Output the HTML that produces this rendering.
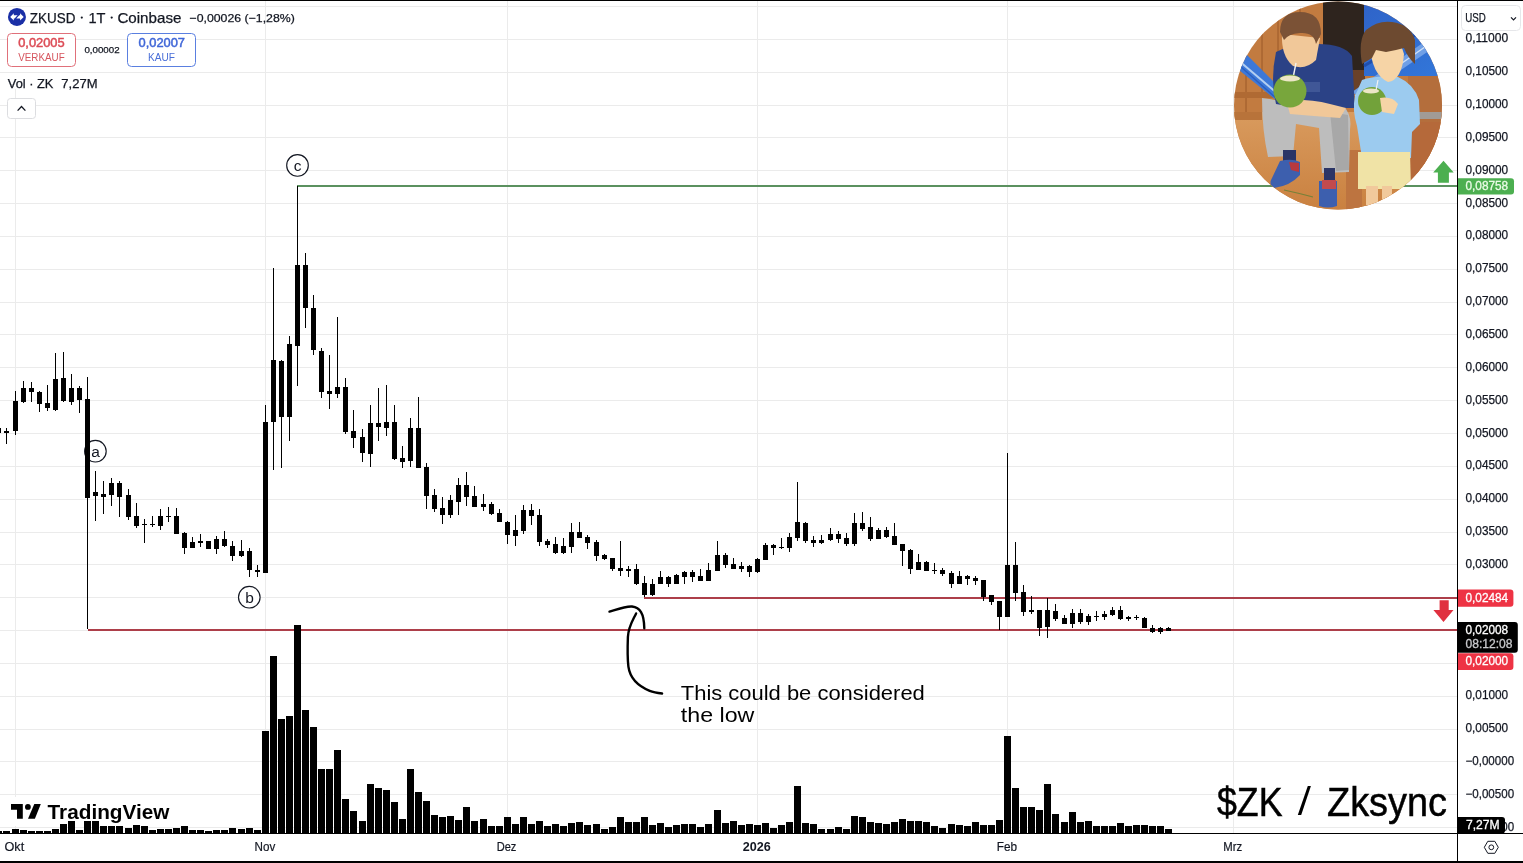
<!DOCTYPE html><html><head><meta charset="utf-8"><title>ZKUSD</title><style>
html,body{margin:0;padding:0;background:#fff;}
body{width:1523px;height:863px;position:relative;overflow:hidden;font-family:"Liberation Sans", sans-serif;}
svg{position:absolute;left:0;top:0;will-change:transform;}
text{font-family:"Liberation Sans", sans-serif;}
</style></head><body>
<svg width="1523" height="863" shape-rendering="crispEdges">
<rect x="0" y="6" width="1457" height="1" fill="#ebebeb"/>
<rect x="0" y="39" width="1457" height="1" fill="#ebebeb"/>
<rect x="0" y="72" width="1457" height="1" fill="#ebebeb"/>
<rect x="0" y="105" width="1457" height="1" fill="#ebebeb"/>
<rect x="0" y="137" width="1457" height="1" fill="#ebebeb"/>
<rect x="0" y="170" width="1457" height="1" fill="#ebebeb"/>
<rect x="0" y="203" width="1457" height="1" fill="#ebebeb"/>
<rect x="0" y="236" width="1457" height="1" fill="#ebebeb"/>
<rect x="0" y="269" width="1457" height="1" fill="#ebebeb"/>
<rect x="0" y="302" width="1457" height="1" fill="#ebebeb"/>
<rect x="0" y="334" width="1457" height="1" fill="#ebebeb"/>
<rect x="0" y="367" width="1457" height="1" fill="#ebebeb"/>
<rect x="0" y="400" width="1457" height="1" fill="#ebebeb"/>
<rect x="0" y="433" width="1457" height="1" fill="#ebebeb"/>
<rect x="0" y="466" width="1457" height="1" fill="#ebebeb"/>
<rect x="0" y="499" width="1457" height="1" fill="#ebebeb"/>
<rect x="0" y="532" width="1457" height="1" fill="#ebebeb"/>
<rect x="0" y="564" width="1457" height="1" fill="#ebebeb"/>
<rect x="0" y="597" width="1457" height="1" fill="#ebebeb"/>
<rect x="0" y="630" width="1457" height="1" fill="#ebebeb"/>
<rect x="0" y="663" width="1457" height="1" fill="#ebebeb"/>
<rect x="0" y="696" width="1457" height="1" fill="#ebebeb"/>
<rect x="0" y="729" width="1457" height="1" fill="#ebebeb"/>
<rect x="0" y="761" width="1457" height="1" fill="#ebebeb"/>
<rect x="0" y="794" width="1457" height="1" fill="#ebebeb"/>
<rect x="0" y="827" width="1457" height="1" fill="#ebebeb"/>
<rect x="15" y="89" width="1" height="744" fill="#ebebeb"/>
<rect x="265" y="0" width="1" height="833" fill="#ebebeb"/>
<rect x="507" y="0" width="1" height="833" fill="#ebebeb"/>
<rect x="757" y="0" width="1" height="833" fill="#ebebeb"/>
<rect x="1007" y="0" width="1" height="833" fill="#ebebeb"/>
<rect x="1233" y="0" width="1" height="833" fill="#ebebeb"/>
<circle cx="95.4" cy="451.2" r="10.8" fill="#fff" shape-rendering="auto" stroke="#131722" stroke-width="1.15"/>
<text x="95.6" y="456.8" font-size="15.5" text-anchor="middle" fill="#131722">a</text>
<circle cx="249.3" cy="597.2" r="10.8" fill="#fff" shape-rendering="auto" stroke="#131722" stroke-width="1.15"/>
<text x="249.5" y="602.9" font-size="15.5" text-anchor="middle" fill="#131722">b</text>
<circle cx="297.5" cy="165.4" r="10.8" fill="#fff" shape-rendering="auto" stroke="#131722" stroke-width="1.15"/>
<text x="297.7" y="170.6" font-size="15.5" text-anchor="middle" fill="#131722">c</text>
<rect x="6" y="797" width="168" height="29" fill="#fff"/>
<rect x="88" y="629" width="1369" height="2" fill="#ad3f4a"/>
<rect x="644" y="597" width="813" height="2" fill="#ad3f4a"/>
<rect x="297" y="185" width="1160" height="2" fill="#5b915f"/>
<path fill="#000" d="M-5 831h7v2h-7zM3 831h7v2h-7zM12 829h7v4h-7zM20 830h7v3h-7zM28 831h7v2h-7zM36 831h7v2h-7zM44 831h7v2h-7zM52 829h7v4h-7zM60 824h7v9h-7zM68 821h7v12h-7zM76 830h7v3h-7zM84 821h7v12h-7zM92 821h7v12h-7zM100 826h7v7h-7zM108 826h7v7h-7zM116 826h7v7h-7zM125 828h7v5h-7zM133 825h7v8h-7zM141 826h7v7h-7zM149 830h7v3h-7zM157 829h7v4h-7zM165 829h7v4h-7zM173 828h7v5h-7zM181 826h7v7h-7zM189 830h7v3h-7zM197 830h7v3h-7zM205 831h7v2h-7zM213 830h7v3h-7zM221 830h7v3h-7zM229 828h7v5h-7zM238 829h7v4h-7zM246 828h7v5h-7zM254 830h7v3h-7zM262 731h7v102h-7zM270 656h7v177h-7zM278 719h7v114h-7zM286 716h7v117h-7zM294 625h7v208h-7zM302 710h7v123h-7zM310 727h7v106h-7zM318 769h7v64h-7zM326 769h7v64h-7zM334 750h7v83h-7zM342 799h7v34h-7zM350 811h7v22h-7zM359 821h7v12h-7zM367 784h7v49h-7zM375 788h7v45h-7zM383 790h7v43h-7zM391 802h7v31h-7zM399 819h7v14h-7zM407 769h7v64h-7zM415 792h7v41h-7zM423 801h7v32h-7zM431 815h7v18h-7zM439 817h7v16h-7zM447 816h7v17h-7zM455 820h7v13h-7zM463 807h7v26h-7zM471 821h7v12h-7zM480 819h7v14h-7zM488 826h7v7h-7zM496 826h7v7h-7zM504 817h7v16h-7zM512 824h7v9h-7zM520 817h7v16h-7zM528 824h7v9h-7zM536 821h7v12h-7zM544 826h7v7h-7zM552 824h7v9h-7zM560 826h7v7h-7zM568 823h7v10h-7zM576 822h7v11h-7zM584 825h7v8h-7zM593 824h7v9h-7zM601 829h7v4h-7zM609 827h7v6h-7zM617 817h7v16h-7zM625 822h7v11h-7zM633 822h7v11h-7zM641 817h7v16h-7zM649 825h7v8h-7zM657 823h7v10h-7zM665 827h7v6h-7zM673 825h7v8h-7zM681 824h7v9h-7zM689 824h7v9h-7zM697 827h7v6h-7zM705 824h7v9h-7zM714 810h7v23h-7zM722 823h7v10h-7zM730 821h7v12h-7zM738 825h7v8h-7zM746 824h7v9h-7zM754 825h7v8h-7zM762 823h7v10h-7zM770 828h7v5h-7zM778 825h7v8h-7zM786 822h7v11h-7zM794 786h7v47h-7zM802 823h7v10h-7zM810 824h7v9h-7zM818 829h7v4h-7zM827 829h7v4h-7zM835 827h7v6h-7zM843 829h7v4h-7zM851 816h7v17h-7zM859 817h7v16h-7zM867 822h7v11h-7zM875 823h7v10h-7zM883 824h7v9h-7zM891 822h7v11h-7zM899 819h7v14h-7zM907 821h7v12h-7zM915 821h7v12h-7zM923 822h7v11h-7zM931 826h7v7h-7zM939 828h7v5h-7zM948 824h7v9h-7zM956 825h7v8h-7zM964 826h7v7h-7zM972 822h7v11h-7zM980 825h7v8h-7zM988 825h7v8h-7zM996 820h7v13h-7zM1004 736h7v97h-7zM1012 788h7v45h-7zM1020 807h7v26h-7zM1028 807h7v26h-7zM1036 810h7v23h-7zM1044 784h7v49h-7zM1052 814h7v19h-7zM1061 822h7v11h-7zM1069 812h7v21h-7zM1077 822h7v11h-7zM1085 821h7v12h-7zM1093 826h7v7h-7zM1101 826h7v7h-7zM1109 826h7v7h-7zM1117 823h7v10h-7zM1125 826h7v7h-7zM1133 825h7v8h-7zM1141 825h7v8h-7zM1149 826h7v7h-7zM1157 826h7v7h-7zM1165 829h7v4h-7z"/>
<path fill="#000" d="M-4 428h5v5h-5zM-2 428h1v6h-1zM4 431h5v2h-5zM6 428h1v16h-1zM13 401h5v30h-5zM15 391h1v44h-1zM21 388h5v14h-5zM23 381h1v22h-1zM29 388h5v4h-5zM31 382h1v20h-1zM37 392h5v12h-5zM39 391h1v21h-1zM45 403h5v5h-5zM47 385h1v26h-1zM53 379h5v31h-5zM55 353h1v58h-1zM61 378h5v23h-5zM63 352h1v50h-1zM69 388h5v14h-5zM71 374h1v31h-1zM77 388h5v12h-5zM79 386h1v27h-1zM85 399h5v99h-5zM87 377h1v252h-1zM93 492h5v4h-5zM95 471h1v50h-1zM101 494h5v3h-5zM103 481h1v33h-1zM109 483h5v12h-5zM111 478h1v28h-1zM117 483h5v14h-5zM119 481h1v36h-1zM126 495h5v22h-5zM128 489h1v31h-1zM134 516h5v10h-5zM136 503h1v25h-1zM142 524h5v1h-5zM144 519h1v24h-1zM150 524h5v1h-5zM152 516h1v11h-1zM158 516h5v10h-5zM160 509h1v21h-1zM166 516h5v1h-5zM168 507h1v15h-1zM174 516h5v18h-5zM176 508h1v26h-1zM182 533h5v15h-5zM184 532h1v22h-1zM190 542h5v6h-5zM192 537h1v11h-1zM198 541h5v2h-5zM200 534h1v13h-1zM206 541h5v8h-5zM208 541h1v8h-1zM214 539h5v10h-5zM216 536h1v18h-1zM222 539h5v7h-5zM224 531h1v16h-1zM230 546h5v10h-5zM232 541h1v20h-1zM239 551h5v5h-5zM241 540h1v17h-1zM247 551h5v19h-5zM249 548h1v29h-1zM255 570h5v2h-5zM257 565h1v12h-1zM263 422h5v151h-5zM265 405h1v168h-1zM271 360h5v62h-5zM273 268h1v202h-1zM279 361h5v56h-5zM281 360h1v108h-1zM287 344h5v73h-5zM289 336h1v105h-1zM295 265h5v81h-5zM297 186h1v200h-1zM303 265h5v43h-5zM305 253h1v75h-1zM311 308h5v42h-5zM313 295h1v60h-1zM319 351h5v41h-5zM321 348h1v50h-1zM327 391h5v3h-5zM329 355h1v54h-1zM335 387h5v7h-5zM337 317h1v81h-1zM343 387h5v45h-5zM345 378h1v56h-1zM351 431h5v7h-5zM353 410h1v38h-1zM360 437h5v16h-5zM362 429h1v33h-1zM368 423h5v31h-5zM370 405h1v62h-1zM376 423h5v4h-5zM378 388h1v53h-1zM384 422h5v6h-5zM386 385h1v51h-1zM392 422h5v37h-5zM394 405h1v55h-1zM400 458h5v4h-5zM402 446h1v22h-1zM408 428h5v33h-5zM410 418h1v49h-1zM416 428h5v40h-5zM418 397h1v71h-1zM424 467h5v29h-5zM426 463h1v46h-1zM432 495h5v14h-5zM434 489h1v23h-1zM440 508h5v7h-5zM442 497h1v27h-1zM448 500h5v15h-5zM450 495h1v23h-1zM456 485h5v17h-5zM458 478h1v37h-1zM464 485h5v12h-5zM466 472h1v34h-1zM472 496h5v11h-5zM474 486h1v21h-1zM481 504h5v3h-5zM483 494h1v17h-1zM489 504h5v10h-5zM491 502h1v13h-1zM497 513h5v9h-5zM499 509h1v13h-1zM505 522h5v13h-5zM507 521h1v23h-1zM513 530h5v6h-5zM515 515h1v31h-1zM521 510h5v21h-5zM523 505h1v29h-1zM529 510h5v6h-5zM531 504h1v21h-1zM537 515h5v27h-5zM539 509h1v37h-1zM545 541h5v4h-5zM547 539h1v9h-1zM553 544h5v9h-5zM555 537h1v17h-1zM561 546h5v7h-5zM563 538h1v16h-1zM569 532h5v15h-5zM571 523h1v30h-1zM577 532h5v6h-5zM579 522h1v16h-1zM585 537h5v6h-5zM587 535h1v14h-1zM594 542h5v14h-5zM596 540h1v21h-1zM602 555h5v4h-5zM604 554h1v6h-1zM610 558h5v11h-5zM612 558h1v13h-1zM618 568h5v3h-5zM620 541h1v35h-1zM626 569h5v2h-5zM628 566h1v11h-1zM634 569h5v15h-5zM636 564h1v21h-1zM642 583h5v12h-5zM644 576h1v21h-1zM650 584h5v11h-5zM652 579h1v17h-1zM658 577h5v7h-5zM660 571h1v13h-1zM666 577h5v7h-5zM668 576h1v11h-1zM674 575h5v9h-5zM676 574h1v10h-1zM682 572h5v5h-5zM684 571h1v13h-1zM690 572h5v5h-5zM692 570h1v12h-1zM698 576h5v5h-5zM700 569h1v12h-1zM706 570h5v11h-5zM708 563h1v18h-1zM715 555h5v16h-5zM717 541h1v30h-1zM723 555h5v10h-5zM725 553h1v15h-1zM731 564h5v5h-5zM733 558h1v11h-1zM739 566h5v3h-5zM741 562h1v10h-1zM747 566h5v6h-5zM749 565h1v12h-1zM755 559h5v13h-5zM757 558h1v15h-1zM763 545h5v15h-5zM765 543h1v17h-1zM771 545h5v3h-5zM773 544h1v11h-1zM779 547h5v1h-5zM781 538h1v11h-1zM787 537h5v11h-5zM789 533h1v19h-1zM795 522h5v16h-5zM797 482h1v59h-1zM803 523h5v18h-5zM805 522h1v21h-1zM811 540h5v3h-5zM813 536h1v11h-1zM819 540h5v3h-5zM821 535h1v9h-1zM828 534h5v6h-5zM830 528h1v13h-1zM836 534h5v5h-5zM838 531h1v12h-1zM844 538h5v6h-5zM846 533h1v13h-1zM852 523h5v21h-5zM854 513h1v33h-1zM860 523h5v6h-5zM862 512h1v19h-1zM868 527h5v12h-5zM870 517h1v24h-1zM876 530h5v9h-5zM878 528h1v11h-1zM884 530h5v7h-5zM886 527h1v11h-1zM892 536h5v9h-5zM894 523h1v22h-1zM900 544h5v7h-5zM902 544h1v22h-1zM908 550h5v19h-5zM910 549h1v25h-1zM916 562h5v8h-5zM918 554h1v16h-1zM924 562h5v9h-5zM926 561h1v10h-1zM932 570h5v1h-5zM934 563h1v11h-1zM940 570h5v4h-5zM942 568h1v8h-1zM949 573h5v11h-5zM951 571h1v17h-1zM957 576h5v8h-5zM959 571h1v13h-1zM965 576h5v3h-5zM967 575h1v10h-1zM973 578h5v3h-5zM975 576h1v9h-1zM981 580h5v17h-5zM983 580h1v21h-1zM989 595h5v7h-5zM991 595h1v10h-1zM997 601h5v16h-5zM999 601h1v29h-1zM1005 565h5v52h-5zM1007 453h1v164h-1zM1013 565h5v28h-5zM1015 542h1v59h-1zM1021 592h5v20h-5zM1023 585h1v31h-1zM1029 610h5v2h-5zM1031 596h1v18h-1zM1037 610h5v18h-5zM1039 610h1v26h-1zM1045 610h5v17h-5zM1047 598h1v40h-1zM1053 611h5v8h-5zM1055 604h1v17h-1zM1062 618h5v6h-5zM1064 615h1v9h-1zM1070 613h5v11h-5zM1072 609h1v19h-1zM1078 613h5v9h-5zM1080 609h1v15h-1zM1086 616h5v6h-5zM1088 614h1v11h-1zM1094 616h5v1h-5zM1096 611h1v10h-1zM1102 614h5v3h-5zM1104 611h1v9h-1zM1110 610h5v5h-5zM1112 607h1v9h-1zM1118 610h5v9h-5zM1120 606h1v14h-1zM1126 617h5v2h-5zM1128 616h1v5h-1zM1134 617h5v1h-5zM1136 615h1v5h-1zM1142 618h5v10h-5zM1144 617h1v11h-1zM1150 628h5v4h-5zM1152 625h1v8h-1zM1158 628h5v4h-5zM1160 627h1v7h-1zM1166 628h5v3h-5zM1168 627h1v4h-1z"/>
<rect x="0" y="0" width="1523" height="1" fill="#000"/>
<rect x="1457" y="0" width="1" height="863" fill="#000"/>
<rect x="0" y="833" width="1523" height="1" fill="#000"/>
<rect x="0" y="861" width="1523" height="2" fill="#000"/>
</svg>
<svg width="1523" height="863">
<path d="M609.5 611.6 C618 609 626 606 632 606.5 C640 607.5 644 613 644.3 628.2" fill="none" stroke="#000" stroke-width="2.4" stroke-linecap="round"/>
<path d="M636.1 613.4 C633 620 628.5 626 627.9 637 C627.5 648 627.6 660 628.4 666.6 C630 678 638 686 649.7 690.8 C654 692.5 658 693 662.1 693.5" fill="none" stroke="#000" stroke-width="2.4" stroke-linecap="round"/>
<text x="680.8" y="700.0" font-size="20" fill="#000" textLength="244.0" lengthAdjust="spacingAndGlyphs">This could be considered</text>
<text x="680.8" y="722.0" font-size="20" fill="#000" textLength="73.5" lengthAdjust="spacingAndGlyphs">the low</text>
<text x="1217.0" y="815.5" font-size="41" fill="#000" textLength="65.5" lengthAdjust="spacingAndGlyphs" stroke="#000" stroke-width="0.5">$ZK</text>
<path d="M1307.8 786 L1310.9 786 L1301.2 815 L1297.8 815 Z" fill="#000"/>
<text x="1327.0" y="815.5" font-size="41" fill="#000" textLength="120.0" lengthAdjust="spacingAndGlyphs" stroke="#000" stroke-width="0.5">Zksync</text>
<path d="M1443.5 160.8 L1453.7 172.6 L1448.9 172.6 L1448.9 182.7 L1437.9 182.7 L1437.9 172.6 L1433.2 172.6 Z" fill="#4caf50"/>
<path d="M1439.6 600.2 L1448.7 600.2 L1448.7 610 L1453.5 610 L1443.5 622 L1433.4 610 L1439.6 610 Z" fill="#e0303f"/>
<circle cx="16.95" cy="16.95" r="9" fill="#1a2fa6"/>
<path d="M10.2 16.9 L13.8 13.3 L13.8 15.2 L17.6 15.2 L14.6 18.6 L13.8 18.6 L13.8 20.5 Z" fill="#fff"/>
<path d="M23.7 16.9 L20.1 20.5 L20.1 18.6 L16.3 18.6 L19.3 15.2 L20.1 15.2 L20.1 13.3 Z" fill="#fff"/>
<text x="29.8" y="22.8" font-size="14.5" fill="#131722" textLength="45.6" lengthAdjust="spacingAndGlyphs" stroke="#131722" stroke-width="0.25">ZKUSD</text>
<circle cx="81.8" cy="17.6" r="1.1" fill="#131722"/>
<text x="88.4" y="22.8" font-size="14.5" fill="#131722" textLength="17.0" lengthAdjust="spacingAndGlyphs" stroke="#131722" stroke-width="0.25">1T</text>
<circle cx="111.7" cy="17.6" r="1.1" fill="#131722"/>
<text x="117.4" y="22.8" font-size="14.5" fill="#131722" textLength="64.0" lengthAdjust="spacingAndGlyphs" stroke="#131722" stroke-width="0.25">Coinbase</text>
<text x="189.5" y="21.7" font-size="11.5" fill="#131722" textLength="105.3" lengthAdjust="spacingAndGlyphs" stroke="#131722" stroke-width="0.25">−0,00026 (−1,28%)</text>
<rect x="7.5" y="33.5" width="68" height="33" rx="4" fill="#fff" stroke="#e0707a" stroke-width="1"/>
<rect x="127.5" y="33.5" width="68" height="33" rx="4" fill="#fff" stroke="#5a7fe0" stroke-width="1"/>
<text x="18.2" y="46.6" font-size="12" fill="#dc4b55" textLength="46.5" lengthAdjust="spacingAndGlyphs" stroke="#dc4b55" stroke-width="0.45">0,02005</text>
<text x="18.2" y="60.8" font-size="10.4" fill="#d6555e" textLength="46.5" lengthAdjust="spacingAndGlyphs">VERKAUF</text>
<text x="138.5" y="46.6" font-size="12" fill="#3f66d8" textLength="46.5" lengthAdjust="spacingAndGlyphs" stroke="#3f66d8" stroke-width="0.45">0,02007</text>
<text x="148.0" y="60.8" font-size="10.4" fill="#4a6fd8" textLength="27.0" lengthAdjust="spacingAndGlyphs">KAUF</text>
<text x="84.4" y="52.9" font-size="9.4" fill="#131722" textLength="35.2" lengthAdjust="spacingAndGlyphs" stroke="#131722" stroke-width="0.25">0,00002</text>
<text x="7.8" y="87.7" font-size="12" fill="#131722" textLength="45.6" lengthAdjust="spacingAndGlyphs" stroke="#131722" stroke-width="0.25">Vol · ZK</text>
<text x="61.3" y="87.7" font-size="12" fill="#131722" textLength="36.2" lengthAdjust="spacingAndGlyphs" stroke="#131722" stroke-width="0.25">7,27M</text>
<rect x="7.5" y="98.5" width="28" height="20" rx="3" fill="#fff" stroke="#dcdde0" stroke-width="1"/>
<path d="M17.6 110.6 L21.5 106.5 L25.4 110.6" fill="none" stroke="#131722" stroke-width="1.3"/>
<text x="1465.5" y="42.4" font-size="12" fill="#131722" textLength="42.7" lengthAdjust="spacingAndGlyphs" stroke="#131722" stroke-width="0.25">0,11000</text>
<text x="1465.5" y="75.2" font-size="12" fill="#131722" textLength="42.7" lengthAdjust="spacingAndGlyphs" stroke="#131722" stroke-width="0.25">0,10500</text>
<text x="1465.5" y="108.1" font-size="12" fill="#131722" textLength="42.7" lengthAdjust="spacingAndGlyphs" stroke="#131722" stroke-width="0.25">0,10000</text>
<text x="1465.5" y="140.9" font-size="12" fill="#131722" textLength="42.7" lengthAdjust="spacingAndGlyphs" stroke="#131722" stroke-width="0.25">0,09500</text>
<text x="1465.5" y="173.8" font-size="12" fill="#131722" textLength="42.7" lengthAdjust="spacingAndGlyphs" stroke="#131722" stroke-width="0.25">0,09000</text>
<text x="1465.5" y="206.6" font-size="12" fill="#131722" textLength="42.7" lengthAdjust="spacingAndGlyphs" stroke="#131722" stroke-width="0.25">0,08500</text>
<text x="1465.5" y="239.4" font-size="12" fill="#131722" textLength="42.7" lengthAdjust="spacingAndGlyphs" stroke="#131722" stroke-width="0.25">0,08000</text>
<text x="1465.5" y="272.3" font-size="12" fill="#131722" textLength="42.7" lengthAdjust="spacingAndGlyphs" stroke="#131722" stroke-width="0.25">0,07500</text>
<text x="1465.5" y="305.1" font-size="12" fill="#131722" textLength="42.7" lengthAdjust="spacingAndGlyphs" stroke="#131722" stroke-width="0.25">0,07000</text>
<text x="1465.5" y="338.0" font-size="12" fill="#131722" textLength="42.7" lengthAdjust="spacingAndGlyphs" stroke="#131722" stroke-width="0.25">0,06500</text>
<text x="1465.5" y="370.8" font-size="12" fill="#131722" textLength="42.7" lengthAdjust="spacingAndGlyphs" stroke="#131722" stroke-width="0.25">0,06000</text>
<text x="1465.5" y="403.7" font-size="12" fill="#131722" textLength="42.7" lengthAdjust="spacingAndGlyphs" stroke="#131722" stroke-width="0.25">0,05500</text>
<text x="1465.5" y="436.5" font-size="12" fill="#131722" textLength="42.7" lengthAdjust="spacingAndGlyphs" stroke="#131722" stroke-width="0.25">0,05000</text>
<text x="1465.5" y="469.4" font-size="12" fill="#131722" textLength="42.7" lengthAdjust="spacingAndGlyphs" stroke="#131722" stroke-width="0.25">0,04500</text>
<text x="1465.5" y="502.2" font-size="12" fill="#131722" textLength="42.7" lengthAdjust="spacingAndGlyphs" stroke="#131722" stroke-width="0.25">0,04000</text>
<text x="1465.5" y="535.0" font-size="12" fill="#131722" textLength="42.7" lengthAdjust="spacingAndGlyphs" stroke="#131722" stroke-width="0.25">0,03500</text>
<text x="1465.5" y="567.9" font-size="12" fill="#131722" textLength="42.7" lengthAdjust="spacingAndGlyphs" stroke="#131722" stroke-width="0.25">0,03000</text>
<text x="1465.5" y="699.3" font-size="12" fill="#131722" textLength="42.7" lengthAdjust="spacingAndGlyphs" stroke="#131722" stroke-width="0.25">0,01000</text>
<text x="1465.5" y="732.1" font-size="12" fill="#131722" textLength="42.7" lengthAdjust="spacingAndGlyphs" stroke="#131722" stroke-width="0.25">0,00500</text>
<text x="1465.5" y="765.0" font-size="12" fill="#131722" textLength="48.6" lengthAdjust="spacingAndGlyphs" stroke="#131722" stroke-width="0.25">−0,00000</text>
<text x="1465.5" y="797.8" font-size="12" fill="#131722" textLength="48.6" lengthAdjust="spacingAndGlyphs" stroke="#131722" stroke-width="0.25">−0,00500</text>
<text x="1465.5" y="830.7" font-size="12" fill="#131722" textLength="48.6" lengthAdjust="spacingAndGlyphs" stroke="#131722" stroke-width="0.25">−0,01000</text>
<path d="M1458 178.2 h53 a3 3 0 0 1 3 3 v10.3 a3 3 0 0 1 -3 3 h-53 z" fill="#4caf50"/>
<text x="1465.5" y="190.0" font-size="12" fill="#eafbe6" textLength="42.7" lengthAdjust="spacingAndGlyphs" stroke="#eafbe6" stroke-width="0.3">0,08758</text>
<path d="M1458 589.5 h52.4 a3 3 0 0 1 3 3 v11.2 a3 3 0 0 1 -3 3 h-52.4 z" fill="#ee3344"/>
<text x="1465.5" y="601.9" font-size="12" fill="#fff" textLength="42.7" lengthAdjust="spacingAndGlyphs" stroke="#fff" stroke-width="0.3">0,02484</text>
<path d="M1458 653.3 h52.4 a3 3 0 0 1 3 3 v10.6 a3 3 0 0 1 -3 3 h-52.4 z" fill="#ee3344"/>
<text x="1465.5" y="664.7" font-size="12" fill="#fff" textLength="42.7" lengthAdjust="spacingAndGlyphs" stroke="#fff" stroke-width="0.3">0,02000</text>
<path d="M1458 622 h56.8 a3 3 0 0 1 3 3 v24.8 a3 3 0 0 1 -3 3 h-56.8 z" fill="#000"/>
<text x="1465.5" y="633.6" font-size="12" fill="#fff" textLength="42.7" lengthAdjust="spacingAndGlyphs" stroke="#fff" stroke-width="0.3">0,02008</text>
<text x="1465.5" y="647.6" font-size="12" fill="#c9cacd" textLength="47.0" lengthAdjust="spacingAndGlyphs" stroke="#c9cacd" stroke-width="0.3">08:12:08</text>
<path d="M1457.5 817 h44.5 a3 3 0 0 1 3 3 v10.4 a3 3 0 0 1 -3 3 h-44.5 z" fill="#000"/>
<text x="1466.0" y="828.7" font-size="12" fill="#fff" textLength="33.6" lengthAdjust="spacingAndGlyphs" stroke="#fff" stroke-width="0.3">7,27M</text>
<rect x="1461.5" y="5.5" width="59" height="25" rx="4" fill="#fff" stroke="#e6e7ea" stroke-width="1"/>
<text x="1465.2" y="22.0" font-size="12" fill="#131722" textLength="20.5" lengthAdjust="spacingAndGlyphs" stroke="#131722" stroke-width="0.25">USD</text>
<path d="M1511 17.3 L1513.5 19.8 L1516 17.3" fill="none" stroke="#131722" stroke-width="1.2"/>
<text x="4.5" y="850.8" font-size="12" fill="#131722" textLength="19.7" lengthAdjust="spacingAndGlyphs" stroke="#131722" stroke-width="0.2">Okt</text>
<text x="254.6" y="850.8" font-size="12" fill="#131722" textLength="20.7" lengthAdjust="spacingAndGlyphs" stroke="#131722" stroke-width="0.2">Nov</text>
<text x="496.7" y="850.8" font-size="12" fill="#131722" textLength="19.7" lengthAdjust="spacingAndGlyphs" stroke="#131722" stroke-width="0.2">Dez</text>
<text x="742.8" y="850.8" font-size="12" fill="#131722" font-weight="bold" textLength="28.0" lengthAdjust="spacingAndGlyphs">2026</text>
<text x="996.7" y="850.8" font-size="12" fill="#131722" textLength="20.3" lengthAdjust="spacingAndGlyphs" stroke="#131722" stroke-width="0.2">Feb</text>
<text x="1223.3" y="850.8" font-size="12" fill="#131722" textLength="18.9" lengthAdjust="spacingAndGlyphs" stroke="#131722" stroke-width="0.2">Mrz</text>
<path d="M1484.3 847.3 L1487.8 841.3 L1494.8 841.3 L1498.3 847.3 L1494.8 853.3 L1487.8 853.3 Z" fill="none" stroke="#131722" stroke-width="1"/>
<circle cx="1491.3" cy="847.3" r="2.4" fill="none" stroke="#131722" stroke-width="1"/>
<path d="M11 804.1 H22.8 V818.7 H17 V809.7 H11 Z" fill="#000"/>
<circle cx="27.9" cy="806.9" r="2.9" fill="#000"/>
<path d="M34.3 804.1 H40.8 L34.9 818.7 H28 Z" fill="#000"/>
<text x="47.6" y="818.7" font-size="20" fill="#000" font-weight="bold" textLength="121.8" lengthAdjust="spacingAndGlyphs">TradingView</text>
</svg>
<svg width="1523" height="863" style="position:absolute;left:0;top:0">
<defs>
<clipPath id="av"><circle cx="1338" cy="105.6" r="104"/></clipPath>
<linearGradient id="fl" x1="0" y1="0" x2="0" y2="1"><stop offset="0" stop-color="#d99b5e"/><stop offset="1" stop-color="#c9803f"/></linearGradient>
<linearGradient id="hm" x1="0" y1="0" x2="1" y2="1"><stop offset="0" stop-color="#2f63c8"/><stop offset="1" stop-color="#3277da"/></linearGradient>
</defs>
<g clip-path="url(#av)">
<rect x="1230" y="0" width="220" height="215" fill="#c27b40"/>
<rect x="1230" y="112" width="220" height="100" fill="url(#fl)"/>
<path d="M1246 0V118M1262 0V96M1278 0V60M1300 0V20" stroke="#a5612e" stroke-width="1.3"/>
<path d="M1232 92H1290V98H1232Z" fill="#b06a33"/>
<path d="M1232 112H1262V120H1232Z" fill="#b8733a"/>
<path d="M1323 0H1365V86H1323Z" fill="#2e241e"/>
<path d="M1352 70H1365V92H1352Z" fill="#6a4128"/>
<path d="M1364 0H1445V76H1364Z" fill="url(#hm)"/>
<path d="M1352 92L1430 38L1436 46L1360 98Z" fill="#6f9fe6"/>
<path d="M1355 96L1432 42" stroke="#cfe0f7" stroke-width="1.5"/>
<path d="M1364 66L1440 20" stroke="#1f4fae" stroke-width="3"/>
<path d="M1408 76H1445V178H1408Z" fill="#b46e3c"/>
<path d="M1416 112H1445V119H1416Z" fill="#a19b96"/>
<path d="M1410 122H1445V180H1410Z" fill="#b5693a"/>
<path d="M1346 150H1362V212H1346Z" fill="#bd7440"/>
<path d="M1236 56L1246 54L1280 88L1276 100L1234 66Z" fill="#3d78d8"/>
<path d="M1238 60L1278 94" stroke="#b3cff2" stroke-width="2"/>
<path d="M1240 66L1276 98" stroke="#2a5fc0" stroke-width="1.5"/>
<path d="M1284 190Q1298 193 1313 197" stroke="#5f7f36" stroke-width="1.2" fill="none" opacity="0.8"/>
<!-- man -->
<path d="M1262 98Q1280 100 1300 107L1346 109Q1352 118 1350 130L1349 172L1322 173L1319 128L1296 124L1293 156L1268 157Q1262 130 1262 98Z" fill="#bdbdbd"/>
<path d="M1330 112L1348 115L1349 170L1336 171Z" fill="#a8a8a8"/>
<path d="M1283 150H1296V165H1283Z" fill="#2b3566"/>
<path d="M1324 168H1335V182H1324Z" fill="#2b3566"/>
<path d="M1280 161Q1292 158 1300 162L1300 175Q1290 186 1274 188Q1268 184 1272 178Z" fill="#3d5fae"/>
<path d="M1289 162L1299 163L1299 172L1291 170Z" fill="#b8393f"/>
<path d="M1319 181H1337V206Q1328 209 1319 206Z" fill="#3d5fae"/>
<path d="M1322 180H1336V189H1322Z" fill="#c24a4d"/>
<path d="M1276 52Q1292 44 1318 44Q1344 44 1352 56L1355 108L1300 108L1276 104Q1270 80 1276 52Z" fill="#2b4286"/>
<path d="M1300 82H1320V92H1300Z" fill="#4f66a3" opacity="0.6"/>
<path d="M1282 34Q1281 56 1293 66Q1306 70 1316 60L1320 38Z" fill="#f1c899"/>
<path d="M1280 32Q1280 12 1300 12Q1321 12 1321 34L1316 44Q1314 32 1300 33Q1288 34 1284 40Z" fill="#7b5236"/>
<path d="M1286 100Q1310 99 1330 104L1346 108L1340 118L1314 116L1290 114Z" fill="#f1c899"/>
<path d="M1296 63L1293 78" stroke="#f2f2f2" stroke-width="1.4"/>
<circle cx="1290" cy="91" r="16.5" fill="#78a63c"/>
<ellipse cx="1290" cy="78.5" rx="10" ry="3" fill="#ece6c6"/>
<!-- boy -->
<path d="M1362 80Q1374 75 1398 77Q1414 84 1419 100L1420 124L1412 132L1411 158L1362 158L1357 126Q1352 110 1355 96Z" fill="#9ccbef"/>
<path d="M1358 152H1410L1411 189H1358Z" fill="#f0e3a6"/>
<path d="M1366 186H1378V205H1366Z" fill="#f1c99b"/>
<path d="M1382 186H1392V202H1382Z" fill="#f1c99b"/>
<path d="M1370 44Q1371 74 1388 82Q1402 80 1404 54L1400 42L1374 40Z" fill="#f6d4a6"/>
<path d="M1362 64Q1358 40 1366 30Q1378 20 1392 22Q1410 24 1415 40L1415 64Q1408 58 1404 48L1396 50L1386 52L1376 50L1372 58Z" fill="#6d4a30"/>
<circle cx="1372" cy="101" r="14" fill="#72a23a"/>
<ellipse cx="1371" cy="91" rx="8" ry="2.5" fill="#ece6c6"/>
<path d="M1380 98Q1392 96 1398 104L1394 114L1382 112Z" fill="#f6d4a6"/>
<path d="M1378 80L1376 90" stroke="#f2f2f2" stroke-width="1.2"/>
</g>
</svg>

</body></html>
